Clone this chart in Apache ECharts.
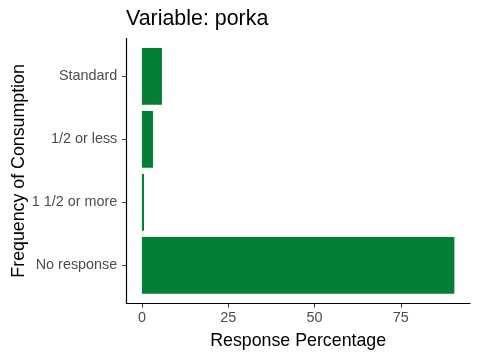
<!DOCTYPE html>
<html><head><meta charset="utf-8">
<script src="https://cdn.jsdelivr.net/npm/echarts@6/dist/echarts.min.js"></script>
<style>html,body{margin:0;padding:0;background:#fff}#c{width:480px;height:360px}</style>
</head><body><div id="c"></div>
<script>
var categories = ['No response', '1 1/2 or more', '1/2 or less', 'Standard'];
var values = [90.5, 0.6, 3.2, 5.8];
var xTicks = [0, 25, 50, 75];
var titleText = 'Variable: porka';
var xTitle = 'Response Percentage';
var yTitle = 'Frequency of Consumption';

var maxV = Math.max.apply(null, values);
var xMin = -0.05 * maxV, xMax = maxV * 1.05;
var font = "'Liberation Sans', Arial, sans-serif";
var chart = echarts.init(document.getElementById('c'), null, {renderer: 'canvas'});
chart.setOption({
  animation: false,
  backgroundColor: '#ffffff',
  title: {text: titleText, left: 126, top: 9, padding: 0,
    textStyle: {fontFamily: font, fontSize: 21.4, fontWeight: 'normal', color: '#000'}},
  grid: [
    {left: 126.3, right: 10, top: 38.5, bottom: 56.5, containLabel: false, outerBoundsMode: 'none'},
    {left: 126.3, right: 10, top: 44.8, bottom: 63, containLabel: false, outerBoundsMode: 'none'}
  ],
  xAxis: [
    {type: 'value', gridIndex: 0, min: xMin, max: xMax,
     axisLine: {show: true, onZero: false, lineStyle: {color: '#000', width: 1.2}},
     axisTick: {show: true, length: 4, lineStyle: {color: '#333'}, customValues: xTicks},
     axisLabel: {customValues: xTicks, color: '#4D4D4D', fontFamily: font, fontSize: 14.4, margin: 8},
     splitLine: {show: false},
     name: xTitle, nameLocation: 'middle', nameGap: 29, nameMoveOverlap: false,
     nameTextStyle: {fontFamily: font, fontSize: 17.8, color: '#000'}},
    {type: 'value', gridIndex: 1, min: xMin, max: xMax, show: false}
  ],
  yAxis: [
    {type: 'value', gridIndex: 0, min: 0, max: 1,
     axisLine: {show: true, onZero: false, lineStyle: {color: '#000', width: 1.2}},
     axisTick: {show: false}, axisLabel: {show: false}, splitLine: {show: false}},
    {type: 'category', gridIndex: 1, data: categories,
     axisLine: {show: false, onZero: false},
     axisTick: {show: true, alignWithLabel: true, length: 4, lineStyle: {color: '#333'}},
     axisLabel: {color: '#4D4D4D', fontFamily: font, fontSize: 14.4, margin: 9},
     splitLine: {show: false},
     name: yTitle, nameLocation: 'middle', nameGap: 98, nameMoveOverlap: false,
     nameTextStyle: {fontFamily: font, fontSize: 17.8, color: '#000'}}
  ],
  series: [{
    type: 'bar', xAxisIndex: 1, yAxisIndex: 1,
    data: values, barWidth: '90%',
    itemStyle: {color: '#027F34', borderWidth: 0}
  }]
});
</script></body></html>
